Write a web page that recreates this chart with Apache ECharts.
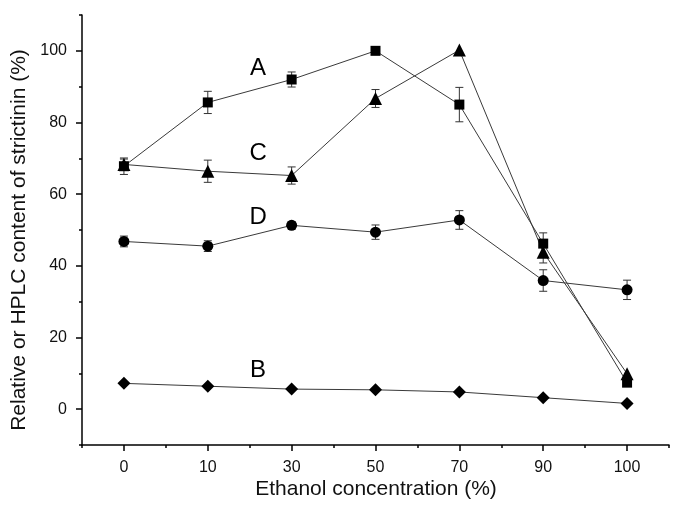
<!DOCTYPE html>
<html>
<head>
<meta charset="utf-8">
<script src="https://cdn.jsdelivr.net/npm/echarts@6/dist/echarts.min.js"></script>
<style>
html,body{margin:0;padding:0;background:#fff;}
#chart{width:685px;height:514px;}
</style>
</head>
<body>
<div id="chart"></div>
<script>
// ---- data ----
var categories = ['0', '10', '30', '50', '70', '90', '100'];
var seriesA = [67.8, 85.6, 92.0, 100.0, 85.0, 46.2, 7.4];
var errA    = [2.3, 3.1, 2.1, 0, 4.8, 3.0, 0];
var seriesC = [68.3, 66.4, 65.2, 86.7, 100.2, 43.8, 9.9];
var errC    = [1.5, 3.1, 2.4, 2.5, 0, 3.0, 0];
var seriesD = [46.8, 45.5, 51.3, 49.4, 52.8, 35.9, 33.3];
var errD    = [1.5, 1.5, 1.0, 2.0, 2.6, 3.0, 2.7];
var seriesB = [7.2, 6.4, 5.6, 5.4, 4.8, 3.2, 1.6];
var errB    = [0, 0, 0, 0, 0, 0, 0];
var yMajorTicks = [0, 20, 40, 60, 80, 100];
var yMinorTicks = [-10, 10, 30, 50, 70, 90, 110];
var curveLabels = ['A', 'C', 'D', 'B'];
var curveLabelX = [1.6, 1.6, 1.6, 1.6];     // category index position
var curveLabelY = [95, 71.3, 53.5, 10.9];   // value position

var FONT = '"Liberation Sans", Arial, sans-serif';

function errData(vals, errs) {
  var out = [];
  for (var i = 0; i < vals.length; i++) {
    if (errs[i] > 0) out.push([i, vals[i] - errs[i], vals[i] + errs[i]]);
  }
  return out;
}

function errSeries(vals, errs) {
  return {
    type: 'custom',
    xAxisIndex: 0, yAxisIndex: 0,
    z: 1,
    silent: true,
    data: errData(vals, errs),
    encode: { x: 0, y: [1, 2] },
    renderItem: function (params, api) {
      var x = api.value(0);
      var lo = api.coord([x, api.value(1)]);
      var hi = api.coord([x, api.value(2)]);
      var hw = 4;
      var st = { stroke: '#333', lineWidth: 1 };
      return {
        type: 'group',
        children: [
          { type: 'line', shape: { x1: lo[0], y1: lo[1], x2: hi[0], y2: hi[1] }, style: st },
          { type: 'line', shape: { x1: lo[0] - hw, y1: lo[1], x2: lo[0] + hw, y2: lo[1] }, style: st },
          { type: 'line', shape: { x1: hi[0] - hw, y1: hi[1], x2: hi[0] + hw, y2: hi[1] }, style: st }
        ]
      };
    }
  };
}

function lineSeries(name, vals, symbol, size) {
  return {
    name: name,
    type: 'line',
    xAxisIndex: 0, yAxisIndex: 0,
    z: 3,
    data: vals,
    symbol: symbol,
    symbolSize: size,
    showAllSymbol: true,
    lineStyle: { color: '#3a3a3a', width: 1 },
    itemStyle: { color: '#000', borderWidth: 0 },
    emphasis: { disabled: true },
    animation: false
  };
}

var chart = echarts.init(document.getElementById('chart'), null, { renderer: 'canvas' });

var option = {
  animation: false,
  backgroundColor: '#fff',
  grid: { left: 82, right: 16, top: 15, bottom: 69, containLabel: false },
  xAxis: [
    {
      type: 'category',
      data: categories,
      boundaryGap: true,
      position: 'bottom',
      axisLine: { show: true, onZero: false, lineStyle: { color: '#000', width: 1.5 } },
      axisTick: { show: true, alignWithLabel: true, length: 6, lineStyle: { color: '#000', width: 1.5 } },
      axisLabel: { show: true, color: '#111', fontFamily: FONT, fontSize: 16, margin: 15 },
      splitLine: { show: false }
    },
    {
      type: 'category',
      data: categories,
      boundaryGap: true,
      position: 'bottom',
      axisLine: { show: false, onZero: false },
      axisTick: { show: true, alignWithLabel: false, length: 3, lineStyle: { color: '#000', width: 1.5 } },
      axisLabel: { show: false },
      splitLine: { show: false }
    }
  ],
  yAxis: [
    {
      type: 'value',
      min: -10, max: 110,
      position: 'left',
      axisLine: { show: true, onZero: false, lineStyle: { color: '#000', width: 1.5 } },
      axisTick: { show: true, length: 6, customValues: yMajorTicks, lineStyle: { color: '#000', width: 1.5 } },
      axisLabel: { show: true, customValues: yMajorTicks, color: '#111', fontFamily: FONT, fontSize: 16, margin: 15 },
      splitLine: { show: false }
    },
    {
      type: 'value',
      min: -10, max: 110,
      position: 'left',
      axisLine: { show: false, onZero: false },
      axisTick: { show: true, length: 3, customValues: yMinorTicks, lineStyle: { color: '#000', width: 1.5 } },
      axisLabel: { show: false },
      splitLine: { show: false }
    }
  ],
  series: [
    errSeries(seriesA, errA),
    errSeries(seriesC, errC),
    errSeries(seriesD, errD),
    errSeries(seriesB, errB),
    lineSeries('A', seriesA, 'rect', 10),
    lineSeries('C', seriesC, 'triangle', 13),
    lineSeries('D', seriesD, 'circle', 11),
    lineSeries('B', seriesB, 'diamond', 13)
  ]
};
chart.setOption(option);

// text annotations positioned via the axes
var graphics = [];
for (var k = 0; k < curveLabels.length; k++) {
  var xi = curveLabelX[k];
  var i0 = Math.floor(xi), f = xi - i0;
  var p0 = chart.convertToPixel({ gridIndex: 0 }, [i0, curveLabelY[k]]);
  var p1 = chart.convertToPixel({ gridIndex: 0 }, [i0 + 1, curveLabelY[k]]);
  graphics.push({
    type: 'text',
    x: p0[0] + (p1[0] - p0[0]) * f,
    y: p0[1],
    style: { text: curveLabels[k], fill: '#000', font: '24px ' + FONT, align: 'center', verticalAlign: 'middle' }
  });
}
graphics.push({
  type: 'text',
  x: 376, y: 489,
  style: { text: 'Ethanol concentration (%)', fill: '#111', font: '21px ' + FONT, align: 'center', verticalAlign: 'middle' }
});
graphics.push({
  type: 'text',
  x: 19, y: 240,
  rotation: Math.PI / 2,
  style: { text: 'Relative or HPLC content of strictinin (%)', fill: '#111', font: '21px ' + FONT, align: 'center', verticalAlign: 'middle' }
});
chart.setOption({ graphic: graphics });
</script>
</body>
</html>
